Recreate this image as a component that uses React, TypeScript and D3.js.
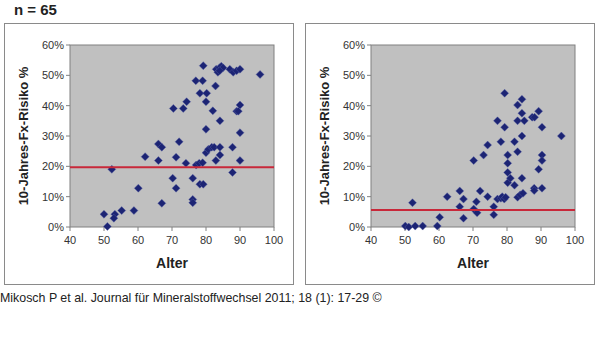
import * as d3 from "d3";

// ages / risk values
const leftAge = [50, 51, 52.3, 53.2, 52.9, 55.2, 58.8, 60.1, 62.1, 66, 66, 67, 67, 70.2, 70.4, 71.2, 71.2, 72.1, 73.3, 74.3, 74.1, 76.1, 76.1, 76.1, 77, 77.1, 78, 78.2, 78.2, 79, 79.2, 79, 79.2, 80, 80.2, 80, 80, 80.7, 81.7, 82.4, 82, 82.8, 82.9, 83, 83.5, 84, 84.5, 85, 84, 84.1, 84.1, 84.1, 87, 88, 87.8, 87.8, 89, 90, 89, 89.5, 90, 90, 90, 95.9];
const leftRisk = [4.2, 0.2, 19, 4.2, 2.9, 5.4, 5.4, 12.8, 23.2, 21.9, 27.4, 26.3, 7.8, 16.1, 39.1, 23, 12.8, 28.1, 39.1, 41.3, 21, 16.1, 9.1, 8.0, 48.2, 20.4, 21, 44.1, 14.1, 21.2, 14.1, 48.2, 53.2, 41.3, 44.1, 32.2, 24.5, 25.6, 26.3, 26.3, 38.3, 46.5, 21.9, 52, 51, 52.5, 53, 52.5, 51.5, 35, 26.3, 23.7, 52, 51, 26.3, 18, 51.5, 52, 38.2, 38.2, 40.2, 31.1, 21.9, 50.3];

const rightAge = [50.1, 51.1, 52.2, 53, 55.2, 59.5, 60.2, 62.4, 66.1, 66.1, 67.2, 67.2, 70.2, 70.2, 71, 71.2, 72.1, 73.1, 74.3, 74.3, 76.1, 76.1, 77.2, 77.2, 78.2, 78.2, 78.6, 79.2, 79.6, 79.3, 79.3, 80.2, 80.2, 80.2, 80.2, 81, 82.2, 82.2, 83.1, 83.1, 83.1, 83.1, 83.9, 84.7, 84.4, 84.4, 84.4, 84.4, 85.1, 87.4, 88.1, 88, 88, 89.3, 89.3, 90.3, 90.3, 90.3, 90.3, 96];
const rightRisk = [0.3, 0, 8, 0.3, 0.3, 0.3, 3.2, 10, 11.9, 6.7, 9.2, 2.9, 21.9, 5.9, 8.3, 4.7, 11.9, 23.7, 27, 10, 6.7, 4, 35, 9.2, 28.1, 9.5, 10, 9.2, 9.8, 44.1, 32.9, 23.7, 21, 18, 14.6, 16.1, 13.8, 28.1, 40.2, 35, 24.8, 9.8, 10.6, 11.1, 42.1, 37.5, 30, 16.1, 35, 36.2, 36.2, 12.8, 12, 38.2, 19, 32.9, 23.7, 21.9, 12.8, 30];

const xTicks = [40, 50, 60, 70, 80, 90, 100];
const yTicks = [0, 10, 20, 30, 40, 50, 60];
const refLines = [19.7, 5.6];

const W = 600;
const H = 354;

function Panel({ dx, ages, risks, ref }: { dx: number; ages: number[]; risks: number[]; ref: number }) {
  const x = d3.scaleLinear().domain([40, 100]).range([70, 274]);
  const y = d3.scaleLinear().domain([0, 60]).range([227, 45]);
  const pts = ages.map((a, i) => [a, risks[i]]);
  return (
    <g transform={`translate(${dx},0)`}>
      <rect x={4.5} y={23.5} width={289} height={261} fill="#fff" stroke="#8a8a8a" />
      <rect x={x(40)} y={y(60)} width={x(100) - x(40)} height={y(0) - y(60)} fill="#c0c0c0" stroke="#808080" />
      {yTicks.map((t) => (
        <g key={t}>
          <line x1={x(40) - 4} x2={x(40)} y1={y(t)} y2={y(t)} stroke="#808080" />
          <text x={x(40) - 6} y={y(t) + 4} textAnchor="end" fontSize={11} fill="#333">{t}%</text>
        </g>
      ))}
      {xTicks.map((t) => (
        <g key={t}>
          <line x1={x(t)} x2={x(t)} y1={y(0)} y2={y(0) + 4} stroke="#808080" />
          <text x={x(t)} y={y(0) + 17} textAnchor="middle" fontSize={11} fill="#333">{t}</text>
        </g>
      ))}
      {pts.map(([a, r], i) => (
        <path key={i} d={d3.symbol(d3.symbolSquare, 32)()!} transform={`translate(${x(a)},${y(r)}) rotate(45)`}
          fill="#1c2474" stroke="#5a64a8" strokeWidth={0.4} />
      ))}
      <line x1={x(40)} x2={x(100)} y1={y(ref)} y2={y(ref)} stroke="#c8283a" strokeWidth={2} />
      <text transform={`translate(27.5,136) rotate(-90)`} textAnchor="middle" fontSize={13} fontWeight="bold" fill="#222">10-Jahres-Fx-Risiko %</text>
      <text x={172} y={268} textAnchor="middle" fontSize={14} fontWeight="bold" fill="#222">Alter</text>
    </g>
  );
}

export default function App() {
  return (
    <svg width={W} height={H} style={{ position: "absolute", left: 0, top: 0, background: "#fff" }} fontFamily="Arial, 'Liberation Sans', sans-serif">
      <text x={14} y={15} fontSize={15} fontWeight="bold" fill="#222">n = 65</text>
      <Panel dx={0} ages={leftAge} risks={leftRisk} ref={refLines[0]} />
      <Panel dx={301} ages={rightAge} risks={rightRisk} ref={refLines[1]} />
      <text x={0} y={302} fontSize={12.4} fill="#222">Mikosch P et al. Journal für Mineralstoffwechsel 2011; 18 (1): 17-29 ©</text>
    </svg>
  );
}
